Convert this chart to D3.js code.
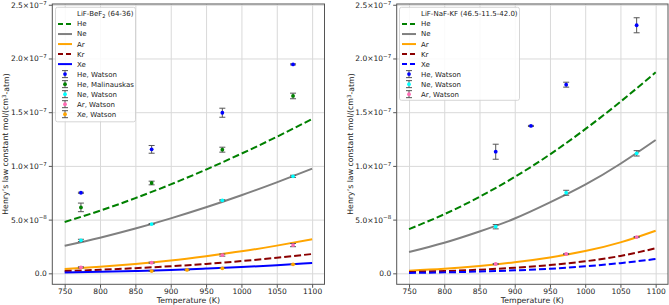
<!DOCTYPE html>
<html>
<head>
<meta charset="utf-8">
<script src="https://cdn.jsdelivr.net/npm/d3@7"></script>
<style>
  body { margin: 0; background: #fff; }
  svg text { font-family: "DejaVu Sans", sans-serif; fill: #222; }
</style>
</head>
<body>
<svg id="chart" width="669" height="305"></svg>
<script>
// fitted curves, sampled every 50 K
const temps = [750, 800, 850, 900, 950, 1000, 1050, 1100];

// LiF-BeF2 (64-36)
const flibeHe = [4.78e-8, 5.83e-8, 7.0e-8, 8.28e-8, 9.66e-8, 11.14e-8, 12.71e-8, 14.37e-8];
const flibeNe = [2.57e-8, 3.32e-8, 4.17e-8, 5.12e-8, 6.15e-8, 7.27e-8, 8.47e-8, 9.74e-8];
const flibeAr = [0.40e-8, 0.62e-8, 0.88e-8, 1.2e-8, 1.6e-8, 2.05e-8, 2.58e-8, 3.17e-8];
const flibeKr = [0.21e-8, 0.33e-8, 0.48e-8, 0.66e-8, 0.88e-8, 1.14e-8, 1.45e-8, 1.80e-8];
const flibeXe = [0.08e-8, 0.14e-8, 0.22e-8, 0.32e-8, 0.44e-8, 0.58e-8, 0.76e-8, 0.96e-8];

// LiF-NaF-KF (46.5-11.5-42.0)
const flinakHe = [4.12e-8, 5.5e-8, 7.12e-8, 8.97e-8, 11.07e-8, 13.42e-8, 15.97e-8, 18.71e-8];
const flinakNe = [1.98e-8, 2.85e-8, 3.9e-8, 5.1e-8, 6.6e-8, 8.25e-8, 10.2e-8, 12.41e-8];
const flinakAr = [0.24e-8, 0.42e-8, 0.68e-8, 1.03e-8, 1.48e-8, 2.07e-8, 2.88e-8, 3.97e-8];
const flinakKr = [0.12e-8, 0.21e-8, 0.34e-8, 0.52e-8, 0.77e-8, 1.12e-8, 1.62e-8, 2.33e-8];
const flinakXe = [0.04e-8, 0.09e-8, 0.17e-8, 0.28e-8, 0.43e-8, 0.65e-8, 0.95e-8, 1.33e-8];

// measurements
const flibeHeWatsonT = [773, 873, 973, 1073];
const flibeHeWatson = [7.50e-8, 11.54e-8, 14.95e-8, 19.45e-8];
const flibeHeWatsonErr = [0.05e-8, 0.36e-8, 0.42e-8, 0.05e-8];
const flibeHeMalT = [773, 873, 973, 1073];
const flibeHeMal = [6.14e-8, 8.41e-8, 11.51e-8, 16.51e-8];
const flibeHeMalErr = [0.40e-8, 0.17e-8, 0.23e-8, 0.26e-8];
const flibeNeWatsonT = [773, 873, 973, 1073];
const flibeNeWatson = [3.07e-8, 4.59e-8, 6.80e-8, 9.03e-8];
const flibeNeWatsonErr = [0.1e-8, 0.05e-8, 0.05e-8, 0.1e-8];
const flibeArWatsonT = [773, 873, 973, 1073];
const flibeArWatson = [0.56e-8, 0.99e-8, 1.70e-8, 2.63e-8];
const flibeArWatsonErr = [0.05e-8, 0.05e-8, 0.1e-8, 0.15e-8];
const flibeXeWatsonT = [873, 923, 973, 1073];
const flibeXeWatson = [0.21e-8, 0.32e-8, 0.47e-8, 0.84e-8];
const flibeXeWatsonErr = [0.02e-8, 0.02e-8, 0.02e-8, 0.02e-8];

const flinakHeWatsonT = [873, 923, 973, 1073];
const flinakHeWatson = [11.32e-8, 13.72e-8, 17.56e-8, 23.09e-8];
const flinakHeWatsonErr = [0.70e-8, 0.05e-8, 0.23e-8, 0.70e-8];
const flinakNeWatsonT = [873, 973, 1073];
const flinakNeWatson = [4.34e-8, 7.50e-8, 11.17e-8];
const flinakNeWatsonErr = [0.2e-8, 0.23e-8, 0.25e-8];
const flinakArWatsonT = [873, 973, 1073];
const flinakArWatson = [0.87e-8, 1.80e-8, 3.38e-8];
const flinakArWatsonErr = [0.05e-8, 0.05e-8, 0.05e-8];

const xTicks = [750, 800, 850, 900, 950, 1000, 1050, 1100];
const yTicks = [0, 5e-8, 1e-7, 1.5e-7, 2e-7, 2.5e-7];
const yTickMant = ["0.0", "5.0", "1.0", "1.5", "2.0", "2.5"];
const yTickExp = ["", "\u22128", "\u22127", "\u22127", "\u22127", "\u22127"];

const svg = d3.select("#chart");
const zip = (t, v, e) => t.map((d, i) => ({ t: d, v: v[i], e: e[i] }));

function drawPanel(cfg) {
    const x = d3.scaleLinear().domain([732.5, 1117.5]).range([cfg.left, cfg.right]);
    const y = d3.scaleLinear().domain([-1.02e-8, 2.507e-7]).range([284.3, 4]);
    const g = svg.append("g");
    const h = 284.3 - 4;

    // grid
    g.append("g")
        .attr("transform", "translate(0,4)")
        .call(d3.axisBottom(x).tickValues(xTicks).tickSize(h).tickFormat(""))
        .call(s => s.select(".domain").remove())
        .selectAll("line").attr("stroke", "#d9d9d9");
    g.append("g")
        .attr("transform", `translate(${cfg.left},0)`)
        .call(d3.axisRight(y).tickValues(yTicks).tickSize(cfg.right - cfg.left).tickFormat(""))
        .call(s => s.select(".domain").remove())
        .selectAll("line").attr("stroke", "#d9d9d9");

    // fitted curves
    const line = d3.line().x((d, i) => x(temps[i])).y(d => y(d)).curve(d3.curveNatural);
    cfg.curves.forEach(c => {
        g.append("path")
            .attr("d", line(c.values))
            .attr("fill", "none")
            .attr("stroke", c.color)
            .attr("stroke-width", 2)
            .attr("stroke-dasharray", c.dash ? "7,3" : null);
    });

    // measured points with error bars
    cfg.points.forEach(p => {
        const pts = zip(p.t, p.v, p.e);
        const eb = g.append("g");
        eb.selectAll(".bar").data(pts).join("line")
            .attr("x1", d => x(d.t)).attr("x2", d => x(d.t))
            .attr("y1", d => y(d.v - d.e)).attr("y2", d => y(d.v + d.e))
            .attr("stroke", "#555").attr("stroke-width", 1);
        [-1, 1].forEach(sgn => {
            eb.selectAll(".cap" + sgn).data(pts).join("line")
                .attr("x1", d => x(d.t) - 3).attr("x2", d => x(d.t) + 3)
                .attr("y1", d => y(d.v + sgn * d.e)).attr("y2", d => y(d.v + sgn * d.e))
                .attr("stroke", "#555").attr("stroke-width", 1);
        });
        eb.selectAll("circle").data(pts).join("circle")
            .attr("cx", d => x(d.t)).attr("cy", d => y(d.v))
            .attr("r", 1.9).attr("fill", p.color);
    });

    // axes
    const xa = g.append("g")
        .attr("transform", "translate(0,284.3)")
        .call(d3.axisBottom(x).tickValues(xTicks).tickSize(3.5).tickSizeOuter(0)
            .tickPadding(1).tickFormat(d3.format("d")));
    xa.select(".domain").remove();
    xa.selectAll("line").attr("stroke", "#555");
    xa.selectAll("text").attr("font-size", 7.5);

    const ya = g.append("g")
        .attr("transform", `translate(${cfg.left},0)`)
        .call(d3.axisLeft(y).tickValues(yTicks).tickSize(3.5).tickSizeOuter(0).tickPadding(2).tickFormat(""));
    ya.select(".domain").remove();
    ya.selectAll("line").attr("stroke", "#555");
    ya.selectAll(".tick text").each(function(d, i) {
        const t = d3.select(this).attr("font-size", 7.5);
        t.append("tspan").text(yTickMant[i] + (yTickExp[i] ? "\u00d710" : ""));
        if (yTickExp[i]) {
            t.append("tspan").attr("dy", "-0.55em").attr("font-size", 5.5).text(yTickExp[i]);
        }
    });

    g.append("rect")
        .attr("x", cfg.left).attr("y", 4)
        .attr("width", cfg.right - cfg.left).attr("height", h)
        .attr("fill", "none").attr("stroke", "#555").attr("stroke-width", 1);

    // labels
    g.append("text")
        .attr("x", (cfg.left + cfg.right) / 2).attr("y", 302.5)
        .attr("text-anchor", "middle").attr("font-size", 7.8)
        .text("Temperature (K)");
    const yl = g.append("text")
        .attr("transform", `translate(${cfg.ylabelX},144) rotate(-90)`)
        .attr("text-anchor", "middle").attr("dy", "0.35em").attr("font-size", 7.8);
    yl.append("tspan").text("Henry\u2019s law constant mol/(cm");
    yl.append("tspan").attr("dy", "-0.4em").attr("font-size", 5.5).text("3");
    yl.append("tspan").attr("dy", "0.4em").text("-atm)");

    // legend
    const lg = g.append("g");
    lg.append("rect")
        .attr("x", cfg.legend.x).attr("y", 7.3)
        .attr("width", cfg.legend.w).attr("height", cfg.legend.h)
        .attr("rx", 2).attr("fill", "#fff").attr("fill-opacity", 0.85)
        .attr("stroke", "#ccc").attr("stroke-width", 0.8);
    const hx = cfg.legend.x + 2.5;
    const rowY = i => 14 + i * 10.02;
    const title = lg.append("text")
        .attr("x", hx + 19).attr("y", rowY(0)).attr("dy", "0.35em").attr("font-size", 7);
    title.append("tspan").text(cfg.title[0]);
    if (cfg.title[1]) {
        title.append("tspan").attr("dy", "0.3em").attr("font-size", 5).text(cfg.title[1]);
        title.append("tspan").attr("dy", "-0.3em").text(cfg.title[2]);
    }
    cfg.curves.forEach((c, i) => {
        const yy = rowY(i + 1);
        lg.append("line")
            .attr("x1", hx).attr("x2", hx + 14).attr("y1", yy).attr("y2", yy)
            .attr("stroke", c.color).attr("stroke-width", 2)
            .attr("stroke-dasharray", c.dash ? "5,3" : null);
        lg.append("text").attr("x", hx + 19).attr("y", yy).attr("dy", "0.35em")
            .attr("font-size", 7).text(c.name);
    });
    cfg.points.forEach((p, i) => {
        const yy = rowY(i + 1 + cfg.curves.length);
        const cx = hx + 7;
        lg.append("line").attr("x1", cx).attr("x2", cx).attr("y1", yy - 3.5).attr("y2", yy + 3.5)
            .attr("stroke", "#555");
        [-3.5, 3.5].forEach(o => lg.append("line")
            .attr("x1", cx - 3).attr("x2", cx + 3).attr("y1", yy + o).attr("y2", yy + o)
            .attr("stroke", "#555"));
        lg.append("circle").attr("cx", cx).attr("cy", yy).attr("r", 1.9).attr("fill", p.color);
        lg.append("text").attr("x", hx + 19).attr("y", yy).attr("dy", "0.35em")
            .attr("font-size", 7).text(p.name);
    });
}

drawPanel({
    left: 52.3, right: 324.5, ylabelX: 5.2,
    title: ["LiF-BeF", "2", " (64-36)"],
    legend: { x: 55.5, w: 80, h: 114.5 },
    curves: [
        { name: "He", values: flibeHe, color: "green", dash: true },
        { name: "Ne", values: flibeNe, color: "gray", dash: false },
        { name: "Ar", values: flibeAr, color: "orange", dash: false },
        { name: "Kr", values: flibeKr, color: "darkred", dash: true },
        { name: "Xe", values: flibeXe, color: "blue", dash: false }
    ],
    points: [
        { name: "He, Watson", t: flibeHeWatsonT, v: flibeHeWatson, e: flibeHeWatsonErr, color: "blue" },
        { name: "He, Malinauskas", t: flibeHeMalT, v: flibeHeMal, e: flibeHeMalErr, color: "green" },
        { name: "Ne, Watson", t: flibeNeWatsonT, v: flibeNeWatson, e: flibeNeWatsonErr, color: "cyan" },
        { name: "Ar, Watson", t: flibeArWatsonT, v: flibeArWatson, e: flibeArWatsonErr, color: "hotpink" },
        { name: "Xe, Watson", t: flibeXeWatsonT, v: flibeXeWatson, e: flibeXeWatsonErr, color: "orange" }
    ]
});

drawPanel({
    left: 396.7, right: 668, ylabelX: 350,
    title: ["LiF-NaF-KF (46.5-11.5-42.0)"],
    legend: { x: 399.5, w: 120, h: 93 },
    curves: [
        { name: "He", values: flinakHe, color: "green", dash: true },
        { name: "Ne", values: flinakNe, color: "gray", dash: false },
        { name: "Ar", values: flinakAr, color: "orange", dash: false },
        { name: "Kr", values: flinakKr, color: "darkred", dash: true },
        { name: "Xe", values: flinakXe, color: "blue", dash: true }
    ],
    points: [
        { name: "He, Watson", t: flinakHeWatsonT, v: flinakHeWatson, e: flinakHeWatsonErr, color: "blue" },
        { name: "Ne, Watson", t: flinakNeWatsonT, v: flinakNeWatson, e: flinakNeWatsonErr, color: "cyan" },
        { name: "Ar, Watson", t: flinakArWatsonT, v: flinakArWatson, e: flinakArWatsonErr, color: "hotpink" }
    ]
});
</script>
</body>
</html>
